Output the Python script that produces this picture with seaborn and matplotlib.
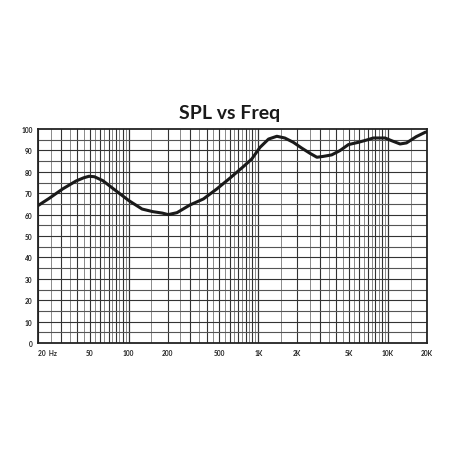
"""SPL vs Freq response chart."""

import numpy as np
import pandas as pd
import matplotlib
matplotlib.use("Agg")
import matplotlib.pyplot as plt
import seaborn as sns

# Frequency response (Hz, dB)
freq_hz = [20, 24.4, 31, 39.3, 45, 49.4, 54.4, 63.1, 79.6, 100.6, 127, 153, 182,
           202, 236, 297, 377, 479, 606, 766, 891, 1030, 1200, 1390, 1600,
           1860, 2160, 2510, 2830, 3170, 3680, 4260, 4950, 5930, 6900, 7700,
           9500, 10700, 12400, 13900, 16500, 19400, 20000]
spl_db = [64.2, 67.6, 72.0, 75.7, 77.2, 77.9, 77.7, 75.9, 71.2, 66.5, 62.6, 61.4, 60.7,
          60.0, 60.9, 64.5, 67.3, 72.0, 77.1, 82.4, 86.0, 91.4, 95.3, 96.6, 95.8,
          93.8, 91.1, 88.6, 86.8, 87.2, 87.9, 89.9, 92.7, 93.8, 94.9, 95.8,
          95.8, 94.5, 93.0, 93.5, 96.4, 98.5, 98.6]

tick_freqs = [20, 50, 100, 200, 500, 1000, 2000, 5000, 10000, 20000]
tick_labels = ["20  Hz", "50", "100", "200", "500", "1K", "2K", "5K", "10K", "20K"]
db_ticks = list(range(0, 101, 10))

sns.set_style("white")
plt.rcParams["font.family"] = ["Lato", "DejaVu Sans"]

fig = plt.figure(figsize=(4.6, 4.6), dpi=100)
ax = fig.add_axes([38 / 460, 116 / 460, 389 / 460, 214 / 460])

# grid: steps of 5 in the leading digit, darker on whole units
for dec in (10, 100, 1000, 10000):
    for k in np.arange(1, 10.01, 0.5):
        f = k * dec
        if f < 20 or f > 20000:
            continue
        whole = float(k).is_integer()
        ax.axvline(f, color="#333333" if whole else "#8a8a8a",
                   lw=0.8 if whole else 0.7, zorder=1)
for v in range(5, 100, 5):
    ax.axhline(v, color="#333333" if v % 10 == 0 else "#555555", lw=0.8, zorder=1)

df = pd.DataFrame({"freq": freq_hz, "spl": spl_db})
sns.lineplot(data=df, x="freq", y="spl", ax=ax, color="#1a1a1a", lw=2.2,
             zorder=3, solid_joinstyle="round", solid_capstyle="round")

ax.set_xscale("log")
ax.set_xlim(20, 20000)
ax.set_ylim(0, 100)
ax.set_xticks(tick_freqs)
ax.set_xticklabels(tick_labels)
ax.set_yticks(db_ticks)
ax.minorticks_off()
ax.tick_params(axis="both", length=0, labelsize=4.8, pad=4, colors="#222222")
for lab in ax.get_xticklabels() + ax.get_yticklabels():
    lab.set_fontweight("bold")
ax.get_xticklabels()[0].set_horizontalalignment("left")
ax.set_xlabel("")
ax.set_ylabel("")
for s in ax.spines.values():
    s.set_visible(True)
    s.set_color("#222222")
    s.set_linewidth(1.3)

fig.text(0.5, 1 - 113 / 460, "SPL vs Freq", ha="center", va="center",
         fontsize=14, fontweight="bold", color="#1a1a1a")

fig.savefig("out.png", dpi=100, facecolor="white")
